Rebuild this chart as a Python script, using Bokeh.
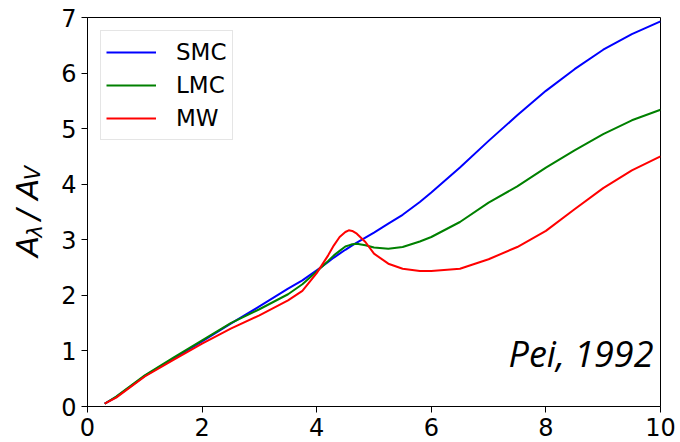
import math
from bokeh.plotting import figure
from bokeh.layouts import row
from bokeh.models import Range1d, Label
from bokeh.core.properties import value
from bokeh.embed import file_html
from bokeh.resources import INLINE

# Wavelength-inverse grid (1/micron) and extinction curves A_lambda/A_V
x_vals = [0.3, 0.5, 1.0, 1.5, 2.0, 2.5, 3.0, 3.5, 3.75, 4.0, 4.2, 4.3, 4.4, 4.5, 4.56,
          4.62, 4.7, 4.85, 5.0, 5.25, 5.5, 5.8, 6.0, 6.5, 7.0, 7.5, 8.0, 8.5, 9.0, 9.5, 10.0]
smc = [0.05, 0.17, 0.55, 0.86, 1.17, 1.49, 1.80, 2.12, 2.27, 2.45, 2.60, 2.68, 2.75, 2.82, 2.86,
       2.90, 2.95, 3.04, 3.13, 3.29, 3.45, 3.68, 3.85, 4.30, 4.78, 5.24, 5.68, 6.07, 6.42, 6.70, 6.93]
lmc = [0.05, 0.18, 0.56, 0.88, 1.19, 1.50, 1.75, 2.02, 2.20, 2.43, 2.62, 2.72, 2.80, 2.88, 2.90,
       2.92, 2.93, 2.90, 2.86, 2.84, 2.87, 2.97, 3.05, 3.32, 3.67, 3.96, 4.30, 4.61, 4.90, 5.15, 5.34]
mw = [0.05, 0.16, 0.54, 0.84, 1.13, 1.40, 1.64, 1.91, 2.08, 2.40, 2.72, 2.90, 3.05, 3.14, 3.17,
      3.16, 3.11, 2.96, 2.75, 2.57, 2.48, 2.44, 2.44, 2.48, 2.65, 2.87, 3.16, 3.55, 3.93, 4.25, 4.50]

series_names = ["SMC", "LMC", "MW"]
series_colors = ["#0000ff", "#008000", "#ff0000"]
x_ticks = [0, 2, 4, 6, 8, 10]
y_ticks = [0, 1, 2, 3, 4, 5, 6, 7]
annotation_text = "Pei, 1992"
ylabel_parts = ["A", "λ", "/", "A", "V"]

W, H = 680, 442
LW = 58  # width of the strip holding the y-axis label

p = figure(width=W - LW, height=H, output_backend="svg", toolbar_location=None,
           x_range=Range1d(0, 10), y_range=Range1d(0, 7),
           min_border_left=87 - LW, min_border_right=20, min_border_top=17,
           min_border_bottom=36)

p.background_fill_color = "white"
p.border_fill_color = "white"
p.outline_line_color = "black"
p.outline_line_width = 1
p.xgrid.grid_line_color = None
p.ygrid.grid_line_color = None

for ys, name, col in zip([smc, lmc, mw], series_names, series_colors):
    p.line(x_vals, ys, line_color=col, line_width=2, legend_label=name,
           line_join="round")

for ax in (p.xaxis, p.yaxis):
    ax.axis_line_color = "black"
    ax.axis_line_width = 1
    ax.major_tick_line_color = "black"
    ax.major_tick_out = 6
    ax.major_tick_in = 0
    ax.minor_tick_line_color = None
    ax.major_label_text_font = "DejaVu Sans"
    ax.major_label_text_font_size = "24px"
    ax.major_label_text_color = "black"
    ax.major_label_standoff = 5
p.xaxis.ticker = x_ticks
p.yaxis.ticker = y_ticks

# Legend
lg = p.legend[0]
lg.location = "top_left"
lg.margin = 13
lg.padding = 5
lg.spacing = 1
lg.glyph_width = 50
lg.glyph_height = 32
lg.label_height = 32
lg.label_standoff = 20
lg.label_text_font = "DejaVu Sans"
lg.label_text_font_size = "23px"
lg.label_text_color = "black"
lg.border_line_color = "#cccccc"
lg.border_line_width = 1
lg.background_fill_color = "white"
lg.background_fill_alpha = 0.8

p.add_layout(Label(x=(653 - 87) / 57.3, y=(406 - 353) / 55.57, text=annotation_text,
                   text_font="Open Sans", text_font_style="italic",
                   text_font_size="36px", text_color="black",
                   text_align="right", text_baseline="alphabetic"))

# Strip with the rotated y-axis label A_lambda / A_V (pixel coordinates)
lab = figure(width=LW, height=H, output_backend="svg", toolbar_location=None,
             x_range=Range1d(0, LW), y_range=Range1d(0, H),
             x_axis_type=None, y_axis_type=None,
             min_border_left=0, min_border_right=0, min_border_top=0,
             min_border_bottom=0)
lab.outline_line_color = None
lab.xgrid.grid_line_color = None
lab.ygrid.grid_line_color = None
lab.background_fill_color = "white"
lab.border_fill_color = "white"

centers = [26.0, 34.5, 26.0, 26.0, 32.5]
big = [True, False, True, True, False]
starts = [272, 250, 230, 207, 185]
for txt, cx, is_big, yy in zip(ylabel_parts, centers, big, starts):
    lab.text(x=[cx], y=[H - yy], text=[txt],
             angle=math.pi / 2, text_font=value("DejaVu Sans"),
             text_font_style="italic",
             text_font_size="31px" if is_big else "21px",
             text_color="black", text_align="left", text_baseline="middle")

layout = row(lab, p, spacing=0)
open("out.html", "w").write(file_html(layout, INLINE))
